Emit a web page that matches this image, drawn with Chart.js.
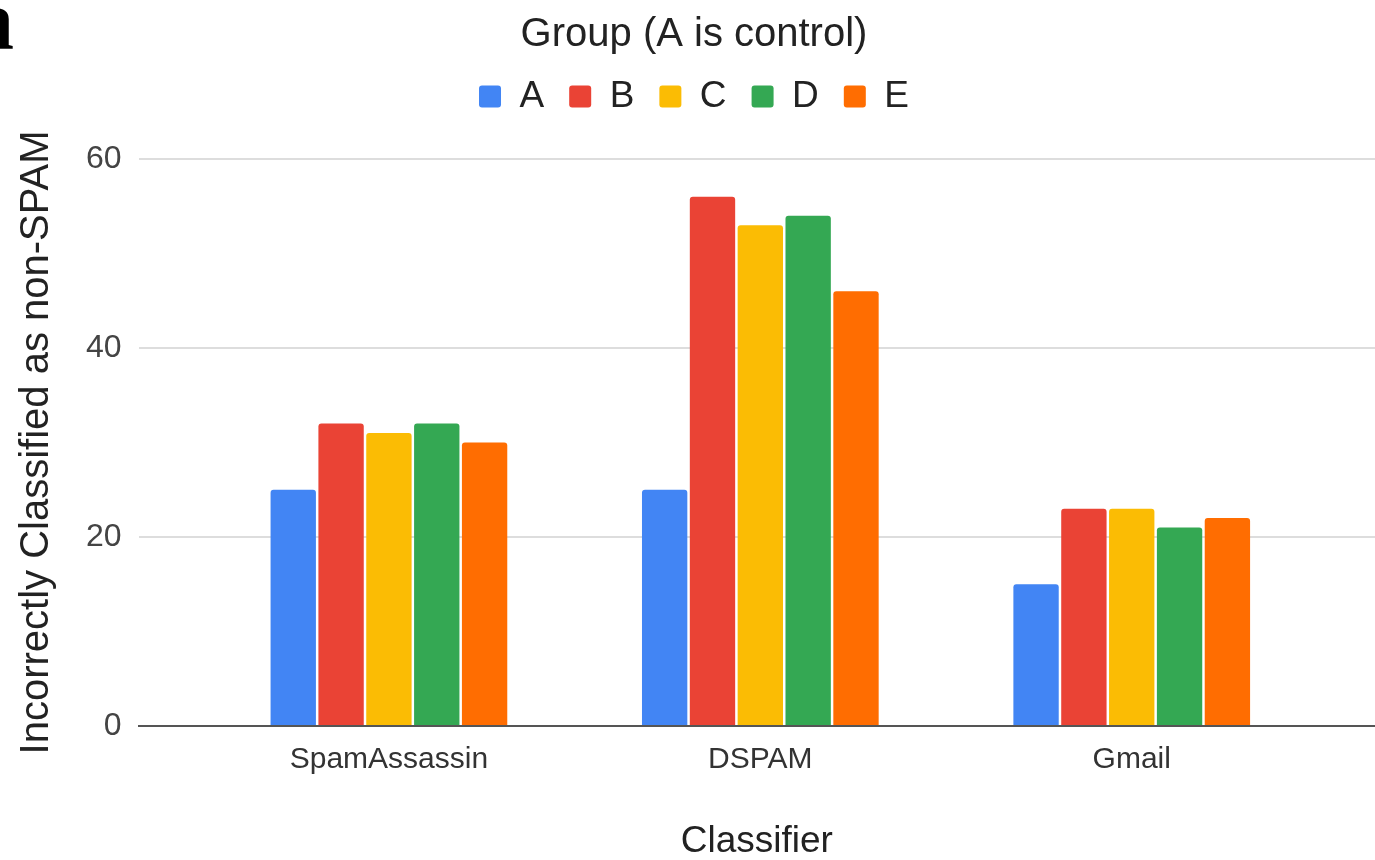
<!DOCTYPE html>
<html>
<head>
<meta charset="utf-8">
<script src="https://cdn.jsdelivr.net/npm/chart.js@4.4.1/dist/chart.umd.min.js"></script>
<style>
  html, body { margin: 0; padding: 0; background: #fff; }
  #wrap { position: relative; width: 1375px; height: 860px; overflow: hidden; }
  #panel { position: absolute; left: -29px; top: -30px; font: bold 86px "Liberation Serif", serif; color: #000; }
</style>
</head>
<body>
<div id="wrap">
  <canvas id="chart"></canvas>
  <div id="panel">a</div>
</div>
<script>
// data
var categories = ['SpamAssassin', 'DSPAM', 'Gmail'];
var groups = ['A', 'B', 'C', 'D', 'E'];
var groupA = [25, 25, 15];
var groupB = [32, 56, 23];
var groupC = [31, 53, 23];
var groupD = [32, 54, 21];
var groupE = [30, 46, 22];
var yTicks = [0, 20, 40, 60];

var colors = ['#4285F4', '#EA4335', '#FBBC04', '#34A853', '#FF6D01'];
var series = [groupA, groupB, groupC, groupD, groupE];
var FONT = '"Liberation Sans", Arial, sans-serif';

var datasets = series.map(function (vals, i) {
  return {
    label: groups[i],
    data: vals.map(function (v, j) { return { x: j, y: v }; }),
    backgroundColor: colors[i],
    borderRadius: 3,
    categoryPercentage: 0.644,
    barPercentage: 0.948
  };
});

// extra room under the legend
var legendGap = {
  id: 'legendGap',
  beforeInit: function (chart) {
    var fit = chart.legend.fit;
    chart.legend.fit = function () {
      fit.call(this);
      this.height += 34;
    };
  }
};

new Chart(document.getElementById('chart'), {
  type: 'bar',
  data: { datasets: datasets },
  plugins: [legendGap],
  options: {
    responsive: true,
    maintainAspectRatio: false,
    animation: false,
    layout: { padding: { top: 11, right: 0, bottom: 0, left: 13 } },
    plugins: {
      tooltip: { enabled: false },
      title: {
        display: true, text: 'Group (A is control)', color: '#222',
        font: { family: FONT, size: 40, weight: 'normal' },
        padding: { top: 0, bottom: -6 }
      },
      legend: {
        position: 'top',
        labels: {
          color: '#222', boxWidth: 22, boxHeight: 22, padding: 25,
          useBorderRadius: true, borderRadius: 3,
          font: { family: FONT, size: 37 }
        }
      }
    },
    scales: {
      x: {
        type: 'linear',
        offset: false,
        min: -0.674, max: 2.655,
        grid: { display: false },
        border: { display: true, color: '#555', width: 2 },
        ticks: {
          stepSize: 1, includeBounds: false, autoSkip: false, maxRotation: 0,
          color: '#333', padding: 8,
          font: { family: FONT, size: 30 },
          callback: function (v) { return categories[v] !== undefined ? categories[v] : ''; }
        },
        title: {
          display: true, text: 'Classifier', color: '#222',
          font: { family: FONT, size: 37, lineHeight: 1 },
          padding: { top: 37, bottom: 0 }
        }
      },
      y: {
        min: 0, max: 60,
        afterBuildTicks: function (scale) {
          scale.ticks = yTicks.map(function (v) { return { value: v }; });
        },
        grid: { color: '#dddddd', lineWidth: 2, drawTicks: false },
        border: { display: false },
        ticks: { color: '#444', padding: 17, font: { family: FONT, size: 32 } },
        title: {
          display: true, text: 'Incorrectly Classified as non-SPAM', color: '#222',
          font: { family: FONT, size: 40 },
          padding: { top: 0, bottom: 8 }
        }
      }
    }
  }
});
</script>
</body>
</html>
